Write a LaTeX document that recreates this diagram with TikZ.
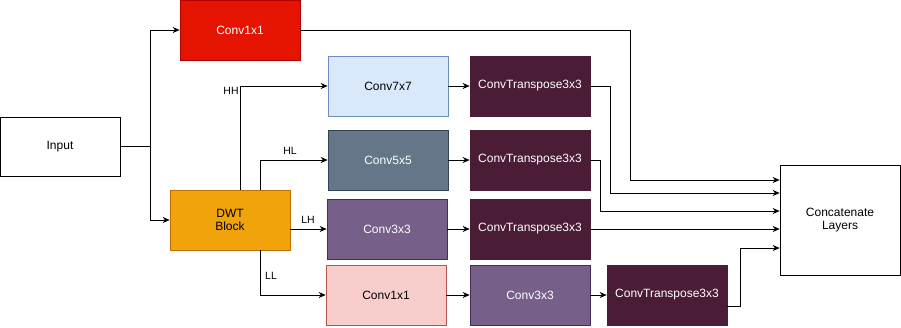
\documentclass[tikz,border=0pt]{standalone}
\usepackage{fontspec}
\setmainfont{Liberation Sans}
\usepackage{tikz}
\usetikzlibrary{arrows.meta}
\usepackage{xcolor}
\definecolor{crouge}{HTML}{E51400}
\definecolor{crougeb}{HTML}{B20000}
\definecolor{cbleu}{HTML}{DAE8FC}
\definecolor{cbleub}{HTML}{6C8EBF}
\definecolor{cardoise}{HTML}{647687}
\definecolor{cardoiseb}{HTML}{314354}
\definecolor{cviolet}{HTML}{76608A}
\definecolor{cvioletb}{HTML}{432D57}
\definecolor{cprune}{HTML}{4A1C36}
\definecolor{crose}{HTML}{F8CECC}
\definecolor{croseb}{HTML}{B85450}
\definecolor{corange}{HTML}{F0A30A}
\definecolor{corangeb}{HTML}{BD7000}

\begin{document}
\begin{tikzpicture}[x=1pt, y=-1pt, >={Stealth[length=7pt,width=6pt]}, line width=0.7pt,
  blk/.style={draw, minimum width=120pt, minimum height=60pt, inner sep=0pt, align=center, font=\fontsize{12}{13.5}\selectfont},
  lbl/.style={font=\fontsize{10.5}{12}\selectfont, inner sep=0pt}]
\useasboundingbox (0,0) rectangle (901,327);
\node[blk, minimum height=59pt] (inp) at (60,146.5) {Input};
\node[blk, fill=crouge, draw=crougeb, text=white] (c1) at (240,30) {Conv1x1};
\node[blk, fill=corange, draw=corangeb] (dwt) at (230,220) {DWT\\Block};
\node[blk, fill=cbleu, draw=cbleub] (c7) at (388,86) {Conv7x7};
\node[blk, fill=cardoise, draw=cardoiseb, text=white] (c5) at (388,160) {Conv5x5};
\node[blk, fill=cviolet, draw=cvioletb, text=white] (c3) at (387,229) {Conv3x3};
\node[blk, fill=crose, draw=croseb] (c1b) at (386,295) {Conv1x1};
\node[blk, fill=cprune, draw=cprune, text=white] (t1) at (530,86) {ConvTranspose3x3};
\node[blk, fill=cprune, draw=cprune, text=white] (t2) at (530,160) {ConvTranspose3x3};
\node[blk, fill=cprune, draw=cprune, text=white] (t3) at (530,229) {ConvTranspose3x3};
\node[blk, fill=cviolet, draw=cvioletb, text=white] (c3b) at (530,295) {Conv3x3};
\node[blk, fill=cprune, draw=cprune, text=white] (t4) at (667,295) {ConvTranspose3x3};
\node[blk, minimum height=110pt] (cat) at (840,220) {Concatenate\\Layers};
% input split
\coordinate (split) at (150,146.5);
\draw (inp.east) -- (split);
\draw[->] (split) |- (c1.west);
\draw[->] (split) |- (dwt.west);
% wavelet bands
\draw[->] ([xshift=10pt]dwt.north) |- (c7.west);
\draw[->] ([xshift=30pt]dwt.north) |- (c5.west);
\draw[->] (dwt.east |- c3.west) -- (c3.west);
\draw[->] ([xshift=30pt]dwt.south) |- (c1b.west);
\node[lbl, anchor=east] (hh) at (239,91) {HH};
\node[lbl] (hl) at (290,151) {HL};
\node[lbl] (lh) at (308,220) {LH};
\node[lbl] (ll) at (271,276) {LL};
\foreach \a/\b in {c7/t1,c5/t2,c3/t3,c1b/c3b,c3b/t4}
  {\draw[->] (\a.east) -- (\b.west);}
% to concatenation
\draw[->] (c1.east) -| (630,180) -- ([yshift=40pt]cat.west);
\draw[->] (t1.east) -| (610,193) -- ([yshift=27pt]cat.west);
\draw[->] (t2.east) -| (600,211) -- ([yshift=9pt]cat.west);
\draw[->] (t3.east) -- ([yshift=-9pt]cat.west);
\draw[->] ([yshift=-11pt]t4.east) -| (740,248) -- ([yshift=-28pt]cat.west);
\end{tikzpicture}
\end{document}
